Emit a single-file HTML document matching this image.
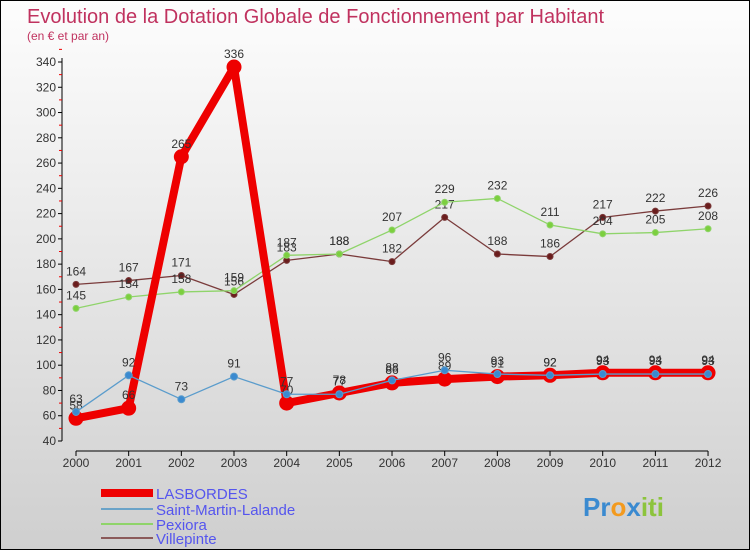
<!DOCTYPE html>
<html><head><meta charset="utf-8"><style>
body{margin:0}
#c{width:748px;height:548px;border:1px solid #000;position:relative;background:linear-gradient(#fdfdfd,#d6d6d6 85%,#cfcfcf);font-family:"Liberation Sans",sans-serif;overflow:hidden}
</style></head><body>
<div id="c">
<svg width="748" height="548" id="s">
<text x="26" y="22" font-size="20" fill="#c0325f">Evolution de la Dotation Globale de Fonctionnement par Habitant</text>
<text x="26" y="39" font-size="12" fill="#c0325f">(en € et par an)</text>
<g id="ax"></g><g id="series"></g>
<g>
<rect x="100" y="488" width="52" height="8" fill="#e00"/>
<text x="155" y="498" font-size="15" fill="#5555ee">LASBORDES</text>
<rect x="100" y="507" width="52" height="2" fill="#6aa3c8"/>
<text x="155" y="514" font-size="15" fill="#5555ee">Saint-Martin-Lalande</text>
<rect x="100" y="522" width="52" height="2" fill="#8fd46a"/>
<text x="155" y="529" font-size="15" fill="#5555ee">Pexiora</text>
<rect x="100" y="536" width="52" height="2" fill="#8b5a5a"/>
<text x="155" y="543" font-size="15" fill="#5555ee">Villepinte</text>
</g>
<text x="582" y="515" font-size="26" font-weight="bold"><tspan fill="#3a8ad0">Pr</tspan><tspan fill="#f39a1e">o</tspan><tspan fill="#3a8ad0">x</tspan><tspan fill="#8cc43c">iti</tspan></text>
</svg></div>
<script>
const years=["2000","2001","2002","2003","2004","2005","2006","2007","2008","2009","2010","2011","2012"];
const yTicks=[40,60,80,100,120,140,160,180,200,220,240,260,280,300,320,340];
const lasbordes=[58,66,265,336,70,78,86,89,91,92,94,94,94];
const saintMartin=[63,92,73,91,77,77,88,96,93,92,93,93,93];
const pexiora=[145,154,158,159,187,188,207,229,232,211,204,205,208];
const villepinte=[164,167,171,156,183,188,182,217,188,186,217,222,226];
const NS="http://www.w3.org/2000/svg";
const X=i=>75+i*52.67, Y=v=>440-(v-40)*379/300;
function mk(t,a,p){const e=document.createElementNS(NS,t);for(const k in a)e.setAttribute(k,a[k]);p.appendChild(e);return e;}
const ax=document.getElementById('ax');
let l=mk('line',{x1:61,y1:57,x2:61,y2:440,stroke:'#000'},ax);


yTicks.forEach(v=>{mk('line',{x1:57,y1:Y(v),x2:61,y2:Y(v),stroke:'#000'},ax);
 mk('line',{x1:58,y1:Y(v+10),x2:61,y2:Y(v+10),stroke:'#e00'},ax);
 const t=mk('text',{x:55,y:Y(v)+4,'font-size':12,'text-anchor':'end',fill:'#333'},ax);t.textContent=v;
 
 });
l=mk('line',{x1:75,y1:450,x2:707,y2:450,stroke:'#000'},ax);


years.forEach((y,i)=>{mk('line',{x1:X(i),y1:450,x2:X(i),y2:455,stroke:'#000'},ax);
 const t=mk('text',{x:X(i),y:466,'font-size':12,'text-anchor':'middle',fill:'#333'},ax);t.textContent=y;
 
 });
const sg=document.getElementById('series');
function series(d,name,col,w,r,mc){
 const g=mk('g',{},sg);
 
 
 mk('polyline',{points:d.map((v,i)=>X(i)+','+Y(v)).join(' '),fill:'none',stroke:col,'stroke-width':w,'stroke-linejoin':'round'},g);
 d.forEach((v,i)=>{const c=mk('circle',{cx:X(i),cy:Y(v),r:r,fill:mc,stroke:col,'stroke-width':1},g);
  
  
  const t=mk('text',{x:X(i),y:Y(v)-9,'font-size':12,'text-anchor':'middle',fill:'#333'},g);t.textContent=v;
  
  });
}
series(villepinte,'villepinte','#7a3b3b',1.3,3,'#6b1d1d');
series(pexiora,'pexiora','#8fd46a',1.3,3,'#7ccf3e');
series(lasbordes,'lasbordes','#ee0000',8,7,'#ee0000');
series(saintMartin,'saint-martin','#5a9ccc',1.3,3.5,'#3a8ad0');
</script>
</body></html>
